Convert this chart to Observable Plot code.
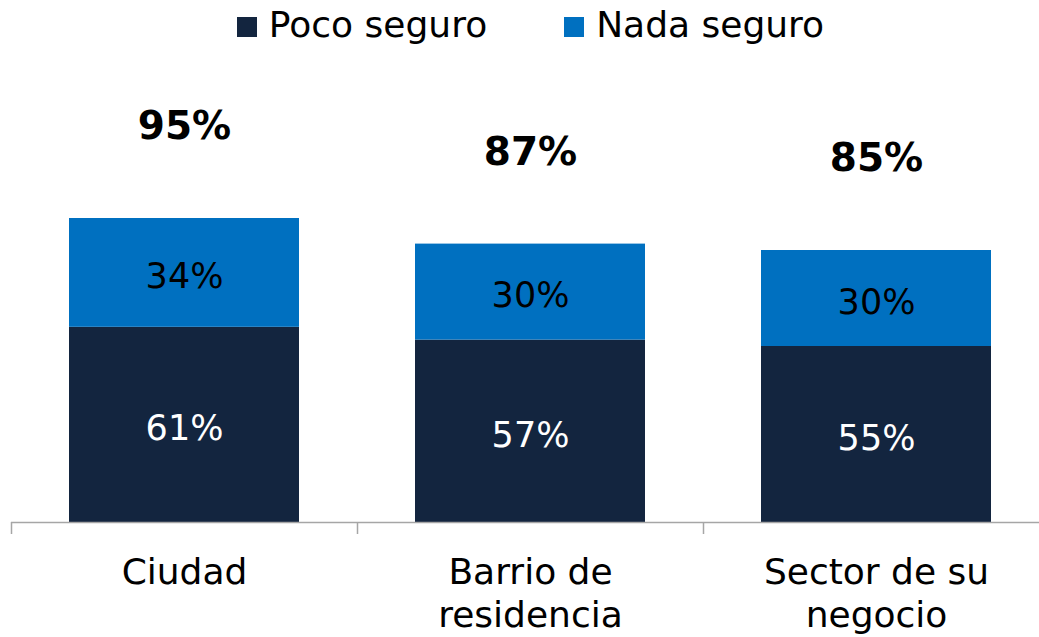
<!DOCTYPE html>
<html>
<head>
<meta charset="utf-8">
<script src="https://cdn.jsdelivr.net/npm/d3@7"></script>
<script src="https://cdn.jsdelivr.net/npm/@observablehq/plot@0.6"></script>
<style>
  html, body { margin: 0; padding: 0; background: #fff; }
  body { width: 1039px; height: 637px; overflow: hidden; font-family: "DejaVu Sans", sans-serif; }
  #legend { height: 50px; display: flex; justify-content: center; align-items: center; padding-left: 22px; box-sizing: border-box; font-size: 36px; color: #000; line-height: 1; }
  .item { display: flex; align-items: center; }
  .item + .item { margin-left: 77px; }
  .sw { width: 20px; height: 20px; margin-right: 12px; margin-top: 4px; }
  #chart svg { display: block; }
</style>
</head>
<body>
<div id="legend"></div>
<div id="chart"></div>
<script>
const categories = ["Ciudad", "Barrio de residencia", "Sector de su negocio"];
const tickLabels = ["Ciudad", "Barrio de\nresidencia", "Sector de su\nnegocio"];
const series = ["Poco seguro", "Nada seguro"];
const pocoSeguro = [61, 57, 55];
const nadaSeguro = [34, 30, 30];
const totals = [95, 87, 85];
const colors = ["#13253F", "#0070C0"];

const rows = [];
categories.forEach((c, i) => rows.push({category: c, series: series[0], value: pocoSeguro[i]}));
categories.forEach((c, i) => rows.push({category: c, series: series[1], value: nadaSeguro[i]}));
const totalRows = categories.map((c, i) => ({category: c, total: totals[i]}));
const labelOf = new Map(categories.map((c, i) => [c, tickLabels[i]]));

// legend
const legend = document.getElementById("legend");
series.forEach((s, i) => {
  const it = document.createElement("div");
  it.className = "item";
  const sw = document.createElement("span");
  sw.className = "sw";
  sw.style.background = colors[i];
  const tx = document.createElement("span");
  tx.textContent = s;
  it.appendChild(sw);
  it.appendChild(tx);
  legend.appendChild(it);
});

const step = (1049 - 11) / categories.length;

const chart = Plot.plot({
  width: 1039,
  height: 587,
  marginLeft: 11,
  marginRight: 0,
  marginTop: 152,
  marginBottom: 115,
  style: {fontFamily: "DejaVu Sans, sans-serif", background: "transparent"},
  x: {domain: categories, range: [11, 1049], paddingInner: 0.335, paddingOuter: 0.1675, axis: null},
  y: {domain: [0, 100], axis: null},
  color: {domain: series, range: colors},
  marks: [
    Plot.barY(rows, Plot.stackY({x: "category", y: "value", fill: "series", order: null})),
    Plot.text(rows, Plot.stackY({
      filter: d => d.series === series[0],
      x: "category", y: "value", text: d => d.value + "%",
      fill: "white", fontSize: 35, dy: 4
    })),
    Plot.text(rows.filter(d => d.series === series[1]).map(d => ({...d, base: pocoSeguro[categories.indexOf(d.category)]})), {
      x: "category", y: d => d.base + d.value / 2, text: d => d.value + "%",
      fill: "black", fontSize: 35, dy: 4
    }),
    Plot.text(totalRows, {
      x: "category", y: "total", text: d => d.total + "%",
      fill: "black", fontSize: 39, fontWeight: "bold", dy: -92
    }),
    Plot.ruleY([0], {stroke: "#A6A6A6", strokeWidth: 1.5}),
    Plot.ruleX(categories, {x: d => d, dx: -step / 2, y1: 0, y2: -3.75, stroke: "#A6A6A6", strokeWidth: 1.5}),
    Plot.text(categories, {
      x: d => d, y: () => 0, text: d => labelOf.get(d),
      lineAnchor: "top", dy: 31, fontSize: 36, lineHeight: 1.2, fill: "black"
    })
  ]
});
document.getElementById("chart").appendChild(chart);
</script>
</body>
</html>
